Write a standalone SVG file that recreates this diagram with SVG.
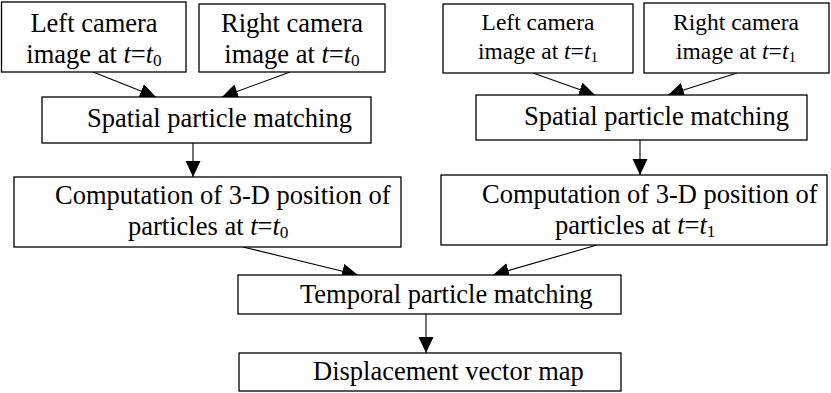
<svg xmlns="http://www.w3.org/2000/svg" width="831" height="393" viewBox="0 0 831 393">
  <style>
    .box { fill: #ffffff; stroke: #000000; stroke-width: 1.3; }
    .lbl { font-family: "Liberation Serif", "Times New Roman", serif; font-size: 26.5px; fill: #000000; }
    .sm { font-size: 23.5px; }
    .it { font-style: italic; }
    .sub { font-size: 0.65em; }
    .edge { stroke: #000000; stroke-width: 1.1; fill: none; marker-end: url(#head); }
  </style>
  <defs>
    <marker id="head" markerUnits="userSpaceOnUse" markerWidth="17" markerHeight="16" refX="16" refY="7.5" orient="auto">
      <path d="M0,0 L16,7.5 L0,15 Z" fill="#000000"/>
    </marker>
  </defs>
  <rect width="831" height="393" fill="#ffffff"/>

  <!-- flow connectors -->
  <g id="connectors">
    <line class="edge" x1="93" y1="72" x2="156" y2="97"/>
    <line class="edge" x1="290" y1="72" x2="222" y2="97"/>
    <line class="edge" x1="193" y1="143" x2="193" y2="177"/>
    <line class="edge" x1="533" y1="73" x2="595" y2="95"/>
    <line class="edge" x1="737" y1="73" x2="668" y2="95"/>
    <line class="edge" x1="640" y1="140" x2="640" y2="175"/>
    <line class="edge" x1="243" y1="247" x2="358" y2="275"/>
    <line class="edge" x1="597" y1="245" x2="493" y2="275"/>
    <line class="edge" x1="426" y1="314" x2="426" y2="353"/>
  </g>

  <!-- time t0 branch -->
  <g id="left-cam-t0">
    <rect class="box" x="1.5" y="2" width="184.5" height="70"/>
    <text class="lbl" x="94" y="32" text-anchor="middle">Left camera</text>
    <text class="lbl" x="94" y="63" text-anchor="middle">image at <tspan class="it">t</tspan>=<tspan class="it">t</tspan><tspan class="sub" dy="3">0</tspan></text>
  </g>
  <g id="right-cam-t0">
    <rect class="box" x="199" y="4" width="186" height="68"/>
    <text class="lbl" x="292" y="32" text-anchor="middle">Right camera</text>
    <text class="lbl" x="292" y="63" text-anchor="middle">image at <tspan class="it">t</tspan>=<tspan class="it">t</tspan><tspan class="sub" dy="3">0</tspan></text>
  </g>
  <g id="spatial-t0">
    <rect class="box" x="42" y="97" width="329" height="46"/>
    <text class="lbl" x="87" y="127">Spatial particle matching</text>
  </g>
  <g id="position-t0">
    <rect class="box" x="14" y="177" width="387" height="70"/>
    <text class="lbl" x="55" y="204">Computation of 3-D position of</text>
    <text class="lbl" x="128" y="235">particles at <tspan class="it">t</tspan>=<tspan class="it">t</tspan><tspan class="sub" dy="3">0</tspan></text>
  </g>

  <!-- time t1 branch -->
  <g id="left-cam-t1">
    <rect class="box" x="443" y="4" width="190" height="69"/>
    <text class="lbl sm" x="538" y="30" text-anchor="middle">Left camera</text>
    <text class="lbl sm" x="538" y="59" text-anchor="middle">image at <tspan class="it">t</tspan>=<tspan class="it">t</tspan><tspan class="sub" dy="3">1</tspan></text>
  </g>
  <g id="right-cam-t1">
    <rect class="box" x="644" y="3" width="185" height="70"/>
    <text class="lbl sm" x="736" y="30" text-anchor="middle">Right camera</text>
    <text class="lbl sm" x="736" y="59" text-anchor="middle">image at <tspan class="it">t</tspan>=<tspan class="it">t</tspan><tspan class="sub" dy="3">1</tspan></text>
  </g>
  <g id="spatial-t1">
    <rect class="box" x="476" y="95" width="331" height="45"/>
    <text class="lbl" x="524" y="125">Spatial particle matching</text>
  </g>
  <g id="position-t1">
    <rect class="box" x="441" y="175" width="386" height="70"/>
    <text class="lbl" x="482" y="203">Computation of 3-D position of</text>
    <text class="lbl" x="555" y="234">particles at <tspan class="it">t</tspan>=<tspan class="it">t</tspan><tspan class="sub" dy="3">1</tspan></text>
  </g>

  <!-- merged stages -->
  <g id="temporal">
    <rect class="box" x="238" y="275" width="383" height="39"/>
    <text class="lbl" x="300" y="303">Temporal particle matching</text>
  </g>
  <g id="displacement">
    <rect class="box" x="239" y="353" width="382" height="38"/>
    <text class="lbl" x="313" y="380">Displacement vector map</text>
  </g>
</svg>
